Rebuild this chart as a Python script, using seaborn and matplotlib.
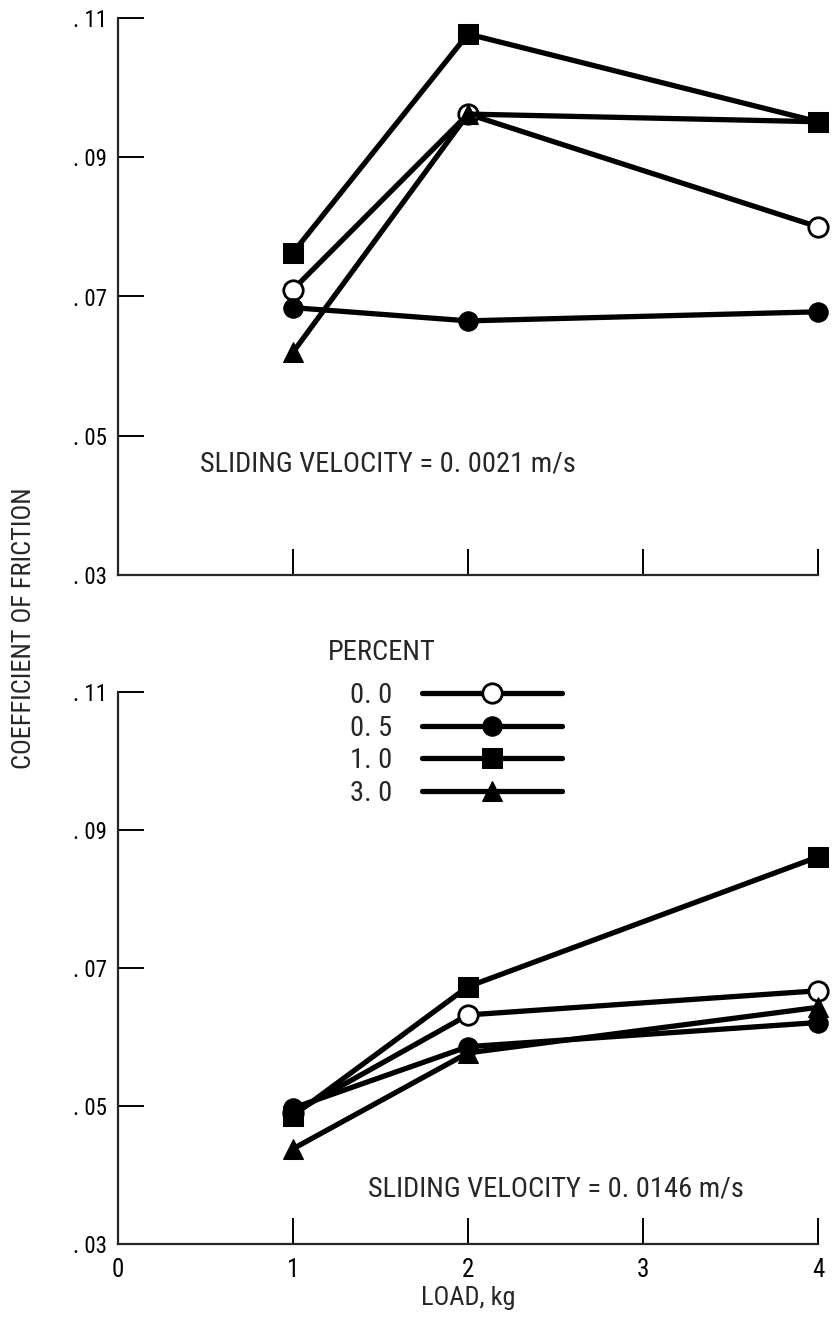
import matplotlib
matplotlib.use("Agg")
import matplotlib.pyplot as plt
import matplotlib.font_manager as fm
import seaborn as sns
import pandas as pd

# ---------------- data ----------------
loads = [1, 2, 4]
percents = ["0.0", "0.5", "1.0", "3.0"]
legend_labels = ["0. 0", "0. 5", "1. 0", "3. 0"]
legend_title = "PERCENT"

# Sliding velocity 0.0021 m/s (upper panel)
top_p00 = [0.0710, 0.0962, 0.0800]
top_p05 = [0.0684, 0.0665, 0.0678]
top_p10 = [0.0763, 0.1077, 0.0951]
top_p30 = [0.0620, 0.0962, 0.0951]

# Sliding velocity 0.0146 m/s (lower panel)
bot_p00 = [0.0490, 0.0632, 0.0667]
bot_p05 = [0.0497, 0.0586, 0.0621]
bot_p10 = [0.0486, 0.0673, 0.0861]
bot_p30 = [0.0438, 0.0577, 0.0643]

yticks = [0.03, 0.05, 0.07, 0.09, 0.11]
ytick_labels = [". 03", ". 05", ". 07", ". 09", ". 11"]
xticks = [0, 1, 2, 3, 4]
xtick_labels = ["0", "1", "2", "3", "4"]

top_text = "SLIDING VELOCITY = 0. 0021 m/s"
bot_text = "SLIDING VELOCITY = 0. 0146 m/s"

# ---------------- style ----------------
sns.set_style("ticks")
names = {f.name for f in fm.fontManager.ttflist}
font = "DejaVu Sans"
for cand in ["Roboto Condensed", "Liberation Sans Narrow", "Open Sans Condensed",
             "DejaVu Sans Condensed", "Liberation Sans"]:
    if cand in names:
        font = cand
        break
plt.rcParams["font.family"] = [font, "DejaVu Sans"]

styles = {
    "0.0": dict(marker="o", markerfacecolor="white", markeredgecolor="black", markersize=14, markeredgewidth=2),
    "0.5": dict(marker="o", markerfacecolor="black", markeredgecolor="black", markersize=14),
    "1.0": dict(marker="s", markerfacecolor="black", markeredgecolor="black", markersize=14),
    "3.0": dict(marker="^", markerfacecolor="black", markeredgecolor="black", markersize=15),
}
draw_order = ["0.0", "3.0", "0.5", "1.0"]

W, H = 833, 1319
fig = plt.figure(figsize=(W / 100, H / 100), dpi=100)
ax_top = fig.add_axes([118 / W, 1 - 575 / H, 700 / W, (575 - 18) / H])
ax_bot = fig.add_axes([118 / W, 1 - 1244 / H, 700 / W, (1244 - 692) / H])


def make_df(series):
    rows = []
    for p, vals in zip(percents, series):
        for x, v in zip(loads, vals):
            rows.append({"load": x, "cof": v, "percent": p})
    return pd.DataFrame(rows)


df_top = make_df([top_p00, top_p05, top_p10, top_p30])
df_bot = make_df([bot_p00, bot_p05, bot_p10, bot_p30])

handles = {}
for ax, df in [(ax_top, df_top), (ax_bot, df_bot)]:
    for p in draw_order:
        sub = df[df["percent"] == p]
        sns.lineplot(data=sub, x="load", y="cof", ax=ax, color="black",
                     linewidth=3.8, clip_on=False, label=p, legend=False,
                     **styles[p])
        handles[p] = ax.lines[-1]
    ax.set_xlim(0, 4)
    ax.set_ylim(0.03, 0.11)
    ax.set_yticks(yticks)
    ax.set_yticklabels(ytick_labels)
    ax.set_xticks(xticks)
    sns.despine(ax=ax)
    for s in ["left", "bottom"]:
        ax.spines[s].set_linewidth(1.6)
    ax.tick_params(axis="both", direction="in", length=19, width=1.4,
                   colors="black")
    ax.tick_params(axis="y", labelsize=16.5, pad=8)
    ax.tick_params(axis="x", labelsize=18, pad=10)
    ax.set_xlabel("")
    ax.set_ylabel("")

ax_top.set_xticklabels([])
ax_bot.set_xticklabels(xtick_labels)
ax_bot.set_xlabel("LOAD, kg", fontsize=19, labelpad=3)

ax_top.text(0.47, 0.046, top_text, fontsize=20.5, ha="left", va="center")
ax_bot.text(1.43, 0.038, bot_text, fontsize=20.5, ha="left", va="center")

fig.text(24 / W, 1 - 628 / H, "COEFFICIENT OF FRICTION", rotation=90,
         fontsize=19, ha="center", va="center")

fig.text(328 / W, 1 - 653 / H, legend_title, fontsize=20.5,
         ha="left", va="center")

leg = ax_bot.legend([handles[p] for p in percents], legend_labels,
                    loc="upper left",
                    bbox_to_anchor=(350 / W, 1 - 682 / H),
                    bbox_transform=fig.transFigure, frameon=False,
                    markerfirst=False, handlelength=4.9, handletextpad=1.05,
                    labelspacing=0.2, borderpad=0, borderaxespad=0,
                    fontsize=20.5, numpoints=1)

fig.savefig("out.png", dpi=100)
